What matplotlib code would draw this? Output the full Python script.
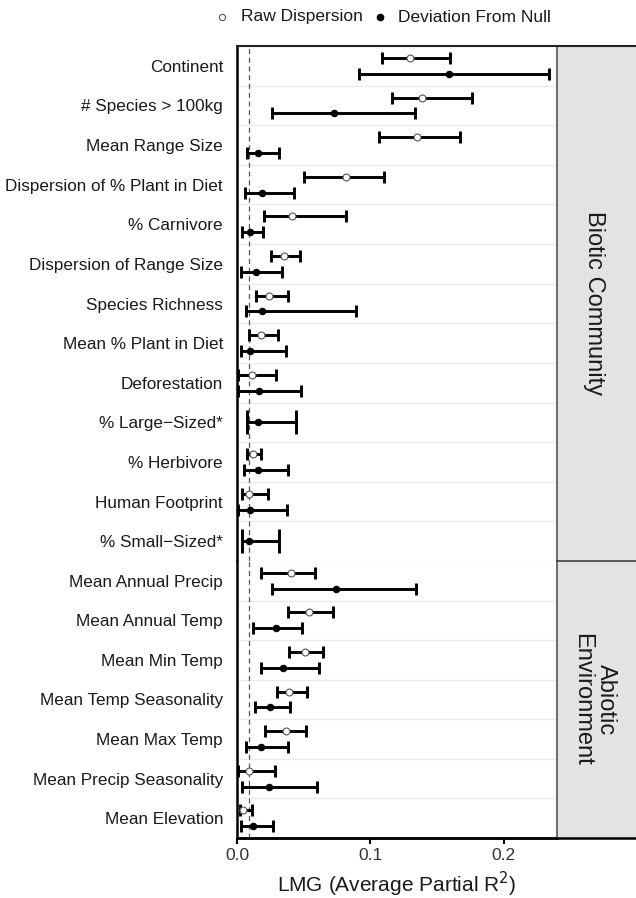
import numpy as np
import matplotlib
matplotlib.use("Agg")
import matplotlib.pyplot as plt

plt.rcParams["font.family"] = ["Liberation Sans", "DejaVu Sans"]

# ---------------------------------------------------------------------------
# data
# ---------------------------------------------------------------------------
biotic_labels = ["Continent", "# Species > 100kg", "Mean Range Size",
                 "Dispersion of % Plant in Diet", "% Carnivore",
                 "Dispersion of Range Size", "Species Richness",
                 "Mean % Plant in Diet", "Deforestation", "% Large\u2212Sized*",
                 "% Herbivore", "Human Footprint", "% Small\u2212Sized*"]
biotic_raw_mid = [0.130, 0.139, 0.135, 0.0816, 0.0414, 0.0355, 0.0237,
                  0.0177, 0.0112, np.nan, 0.0117, 0.0092, np.nan]
biotic_raw_lo = [0.109, 0.1164, 0.1064, 0.0502, 0.020, 0.0255, 0.0145,
                 0.0087, 0.001, np.nan, 0.0072, 0.0037, np.nan]
biotic_raw_hi = [0.160, 0.176, 0.1675, 0.110, 0.0814, 0.0474, 0.0384,
                 0.0305, 0.0295, np.nan, 0.0182, 0.0235, np.nan]
biotic_dev_mid = [0.1588, 0.0729, 0.0155, 0.0185, 0.0097, 0.0145, 0.019,
                  0.0095, 0.0165, 0.016, 0.0157, 0.0095, 0.0092]
biotic_dev_lo = [0.0914, 0.0262, 0.0072, 0.0062, 0.004, 0.0032, 0.0065,
                 0.003, 0.001, 0.0072, 0.0052, 0.001, 0.0035]
biotic_dev_hi = [0.234, 0.1338, 0.0315, 0.0429, 0.0195, 0.0337, 0.0891,
                 0.0365, 0.048, 0.0445, 0.0384, 0.0377, 0.0317]

abiotic_labels = ["Mean Annual Precip", "Mean Annual Temp", "Mean Min Temp",
                  "Mean Temp Seasonality", "Mean Max Temp",
                  "Mean Precip Seasonality", "Mean Elevation"]
abiotic_raw_mid = [0.0407, 0.0542, 0.051, 0.039, 0.0367, 0.009, 0.0047]
abiotic_raw_lo = [0.0182, 0.038, 0.039, 0.0297, 0.0212, 0.0005, 0.0022]
abiotic_raw_hi = [0.0587, 0.0719, 0.0647, 0.0524, 0.0514, 0.0285, 0.0115]
abiotic_dev_mid = [0.0744, 0.0295, 0.0347, 0.025, 0.018, 0.024, 0.0122]
abiotic_dev_lo = [0.0265, 0.0122, 0.0182, 0.0132, 0.0065, 0.004, 0.003]
abiotic_dev_hi = [0.134, 0.0484, 0.0617, 0.0395, 0.0382, 0.060, 0.0272]

null_line = 0.009
x_ticks = [0.0, 0.1, 0.2]

W, H = 636, 898
STRIP_FILL = "#E3E3E3"
GRID = "#EBEBEB"


def errbar(axis, y, mid, lo, hi, filled, cap):
    axis.errorbar([mid], [y], xerr=[[mid - lo], [hi - mid]], fmt="none",
                  ecolor="black", elinewidth=2.1, capsize=cap, capthick=2.1,
                  zorder=3)
    if filled:
        axis.plot([mid], [y], "o", ms=4.6, mfc="black", mec="black",
                  mew=0.8, zorder=4)
    else:
        axis.plot([mid], [y], "o", ms=5.0, mfc="white", mec="#555555",
                  mew=0.8, zorder=4)


def draw_panel(axis, labels, raw_mid, raw_lo, raw_hi, dev_mid, dev_lo, dev_hi):
    n = len(labels)
    rows = np.arange(n)
    for k in range(n - 1):
        axis.axhline(k + 0.5, color=GRID, lw=1.0, zorder=0)
    axis.axvline(null_line, color="#555555", lw=0.9, ls=(0, (4, 3)), zorder=1)
    for i in rows:
        if np.isnan(raw_mid[i]):
            errbar(axis, i, dev_mid[i], dev_lo[i], dev_hi[i], True, 8.5)
        else:
            errbar(axis, i - 0.2, raw_mid[i], raw_lo[i], raw_hi[i], False, 4.0)
            errbar(axis, i + 0.2, dev_mid[i], dev_lo[i], dev_hi[i], True, 4.0)
    axis.set_ylim(n - 0.5, -0.5)
    axis.set_xlim(0, 0.24)
    axis.set_yticks(rows)
    axis.set_yticklabels(labels, fontsize=12.3, color="#1A1A1A")
    axis.tick_params(axis="y", length=0, pad=10)
    for side in ("top", "bottom", "right"):
        axis.spines[side].set_visible(False)
    axis.spines["left"].set_linewidth(1.8)
    axis.spines["left"].set_color("black")


fig = plt.figure(figsize=(W / 100, H / 100), dpi=100)
left, right = 237 / W, 557 / W
top, mid_y, bottom = 1 - 46 / H, 1 - 561 / H, 1 - 838 / H

ax_bio = fig.add_axes([left, mid_y, right - left, top - mid_y])
ax_abio = fig.add_axes([left, bottom, right - left, mid_y - bottom])

draw_panel(ax_bio, biotic_labels, biotic_raw_mid, biotic_raw_lo, biotic_raw_hi,
           biotic_dev_mid, biotic_dev_lo, biotic_dev_hi)
draw_panel(ax_abio, abiotic_labels, abiotic_raw_mid, abiotic_raw_lo,
           abiotic_raw_hi, abiotic_dev_mid, abiotic_dev_lo, abiotic_dev_hi)

ax_bio.set_xticks([])
ax_bio.axhline(13 - 0.5, color=GRID, lw=1.0, zorder=0)
ax_abio.set_xticks(x_ticks)
ax_abio.set_xticklabels(["0.0", "0.1", "0.2"], fontsize=12.5, color="#333333")
ax_abio.tick_params(axis="x", length=4, width=1.5, pad=3)
ax_abio.spines["bottom"].set_visible(True)
ax_abio.spines["bottom"].set_linewidth(1.8)
ax_abio.set_xlabel("LMG (Average Partial R$^2$)", fontsize=15, labelpad=5,
                   color="#1A1A1A")

# strips on the right
strip_bio = fig.add_axes([right, mid_y, 1 - right, top - mid_y])
strip_abio = fig.add_axes([right, bottom, 1 - right, mid_y - bottom])
for strip, text in ((strip_bio, "Biotic Community"),
                    (strip_abio, "Abiotic\nEnvironment")):
    strip.set_facecolor(STRIP_FILL)
    strip.set_xticks([])
    strip.set_yticks([])
    for side in strip.spines.values():
        side.set_visible(False)
    strip.text(0.47, 0.5, text, rotation=-90, ha="center", va="center",
               fontsize=17, color="#1A1A1A", transform=strip.transAxes,
               linespacing=1.1)

# outer lines: right panel border, strip divider, top and bottom lines
fig.add_artist(plt.Line2D([right, right], [bottom, top], color="#555555",
                          lw=1.2, transform=fig.transFigure))
fig.add_artist(plt.Line2D([right, 1], [mid_y, mid_y], color="#444444",
                          lw=1.2, transform=fig.transFigure))
fig.add_artist(plt.Line2D([left, 1], [top, top], color="#222222",
                          lw=1.5, transform=fig.transFigure))
fig.add_artist(plt.Line2D([left, 1], [bottom, bottom], color="black",
                          lw=1.8, transform=fig.transFigure))

# legend at top
ly = 1 - 17 / H
fig.add_artist(plt.Line2D([222 / W], [ly], marker="o", ms=4.5, mfc="white",
                          mec="#555555", mew=0.8, ls="none",
                          transform=fig.transFigure))
fig.text(241 / W, ly, "Raw Dispersion", fontsize=12.5, va="center",
         color="#1A1A1A")
fig.add_artist(plt.Line2D([380 / W], [ly], marker="o", ms=4.5, mfc="black",
                          mec="black", ls="none", transform=fig.transFigure))
fig.text(398 / W, ly, "Deviation From Null", fontsize=12.5, va="center",
         color="#1A1A1A")

fig.savefig("out.png", dpi=100, facecolor="white")
